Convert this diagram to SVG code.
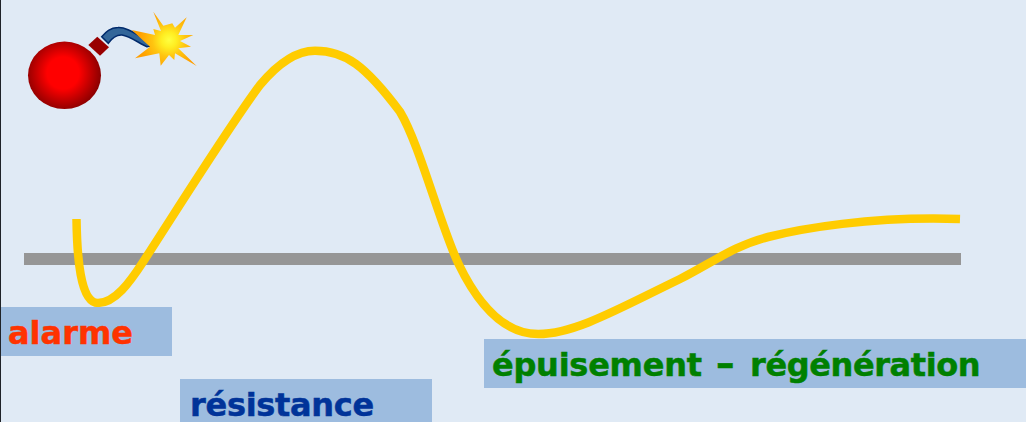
<svg xmlns="http://www.w3.org/2000/svg" width="1026" height="422" viewBox="0 0 1026 422">
<defs>
<radialGradient id="ball" cx="63" cy="73" r="40" gradientUnits="userSpaceOnUse"><stop offset="0" stop-color="#ff0000"/><stop offset="0.4" stop-color="#ff0000"/><stop offset="1" stop-color="#800000"/></radialGradient>
<radialGradient id="burst" cx="169" cy="40" r="30" gradientUnits="userSpaceOnUse"><stop offset="0" stop-color="#ffff40"/><stop offset="0.25" stop-color="#ffee22"/><stop offset="0.55" stop-color="#ffc510"/><stop offset="1" stop-color="#ff9f00"/></radialGradient>
</defs>
<style>
.lab{fill:#9dbcdf}
text{font-family:"DejaVu Sans",Verdana,sans-serif;font-weight:700;font-size:32px;stroke-width:.5px}
</style>
<rect width="1026" height="422" fill="#e0eaf5"/>
<rect x="0" y="0" width="1" height="422" fill="#1f2328"/>
<g id="baseline"><rect x="24" y="253" width="937" height="12" fill="#969696"/></g>
<g id="connectors">
<path id="curve" d="M76.500 219C77 255 80 303 98 303C115 303 130 282 143 262C180 205 230 125 260 85C275 67 295 50.700 315 50.700C345 50.700 365 65 400 111.700C420 145 440 225 458.600 264C475 298 500 334 538.300 334C575 334 620 308 680 279C710 264 735 245 768 237C800 229 870 216 960 219" fill="none" stroke="#ffcc00" stroke-width="8.500"/>
</g>
<g id="bomb">
<ellipse cx="64.500" cy="75.300" rx="36.500" ry="33.700" fill="url(#ball)"/>
<polygon points="97.300,36.700 109,47.300 100,55.700 88.300,45" fill="#990000"/>
<path d="M101.700 36.700C106 32 110 27.700 118 27.500C126 27 134 33 150 42L155 45L147 46.700C140 44 130 36 122 35C116 34.500 112 38 108.300 43.300Z" fill="#336699" stroke="#002a6c" stroke-width="1.500"/>
<polygon points="153.300,11.700 163.300,25.700 172.300,23.300 175,27.700 186.700,17.300 178.300,35 193.300,35 180,41 191,46.700 178.300,48.300 196.700,66 175,53.300 174.300,60 169,55 160.700,65.700 159.300,53.300 135,58.300 150,46.700 131.700,30 155,35 153.300,29 161,31" fill="url(#burst)"/>
</g>
<g id="alarme"><rect class="lab" x="1" y="307" width="171" height="49"/><text x="8" y="344" fill="#ff3300" stroke="#ff3300">alarme</text></g>
<g id="resistance"><rect class="lab" x="180" y="379" width="252" height="43"/><text x="190" y="416" fill="#003399" stroke="#003399" letter-spacing="-.3">résistance</text></g>
<g id="epuisement"><rect class="lab" x="484" y="339" width="542" height="49"/><text x="492" y="376" fill="#008000" stroke="#008000" letter-spacing="-.25">épuisement <tspan x="716" font-size="37">– </tspan><tspan x="750" letter-spacing="-.4">régénération</tspan></text></g>
</svg>
